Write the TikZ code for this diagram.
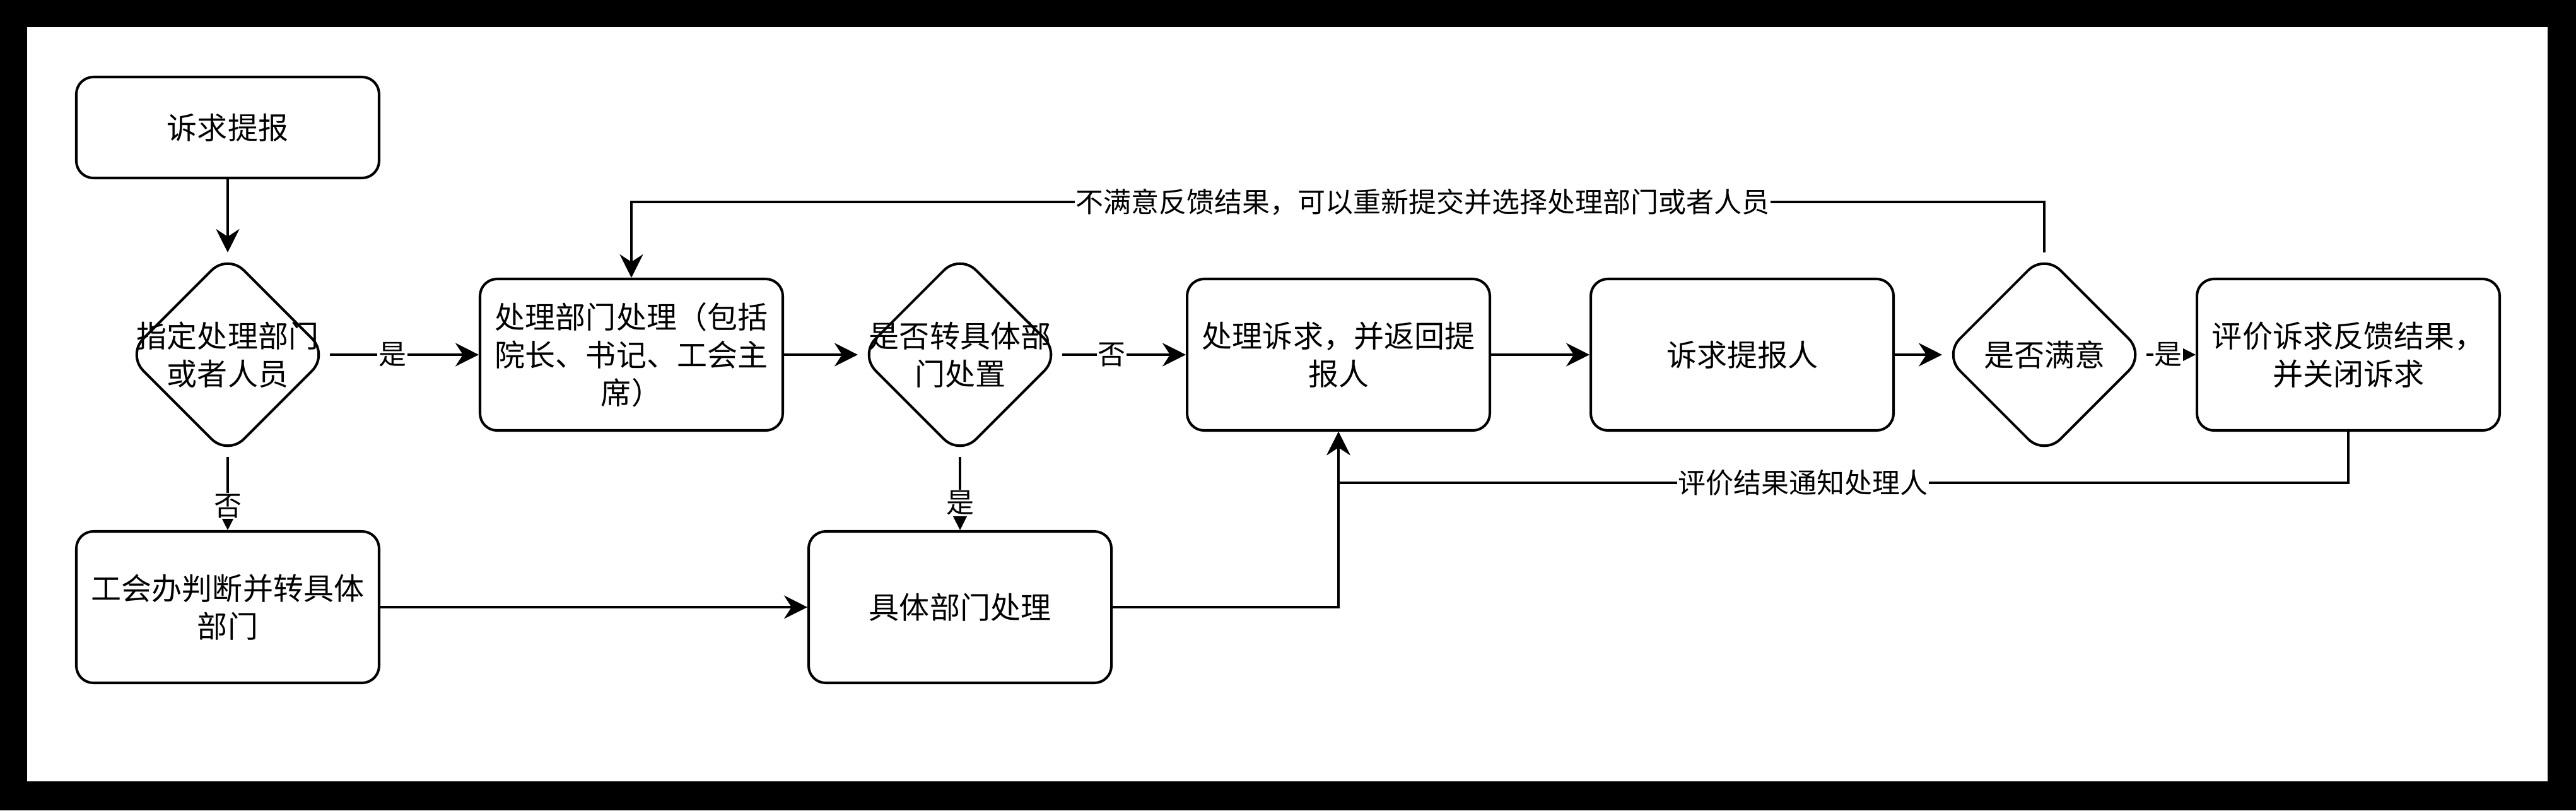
\documentclass[tikz,border=0pt]{standalone}
\usepackage{fontspec}
\setmainfont{Noto Sans CJK SC}
\usetikzlibrary{shapes.geometric,arrows.meta}
\newcommand\flowfont{\fontsize{13.66}{17.07}\selectfont}
\newcommand\tagfont{\fontsize{12.52}{15}\selectfont}
\tikzset{
  stepbox/.style={draw, line width=1.15pt, rounded corners=0.27cm, minimum width=4.8cm, minimum height=2.4cm, align=center, font=\flowfont, inner sep=0pt},
  askbox/.style={draw, diamond, line width=1.15pt, rounded corners=0.36cm, minimum width=3.2cm, minimum height=3.2cm, aspect=1, inner sep=0pt},
  asktext/.style={align=center, font=\flowfont, inner sep=0pt},
  flow/.style={line width=1.15pt, -{Stealth[length=0.37cm,width=0.37cm,inset=0.12cm]}},
  tag/.style={fill=white, inner sep=0.5pt, font=\tagfont},
}
\begin{document}
\begin{tikzpicture}
\fill[black](0,0)rectangle(40.84,-12.84);
\fill[white](0.43,-0.43)rectangle(40.39,-12.38);

\node[stepbox, minimum height=1.6cm](report)at(3.61,-2.02){诉求提报};
\node[askbox](assign)at(3.61,-5.62){};
\node[asktext](assign-txt)at(assign.center){指定处理部门\\或者人员};
\node[stepbox](dept)at(10.01,-5.62){处理部门处理（包括\\院长、书记、工会主\\席）};
\node[stepbox](union)at(3.61,-9.62){工会办判断并转具体\\部门};
\node[askbox](transfer)at(15.22,-5.62){};
\node[asktext](transfer-txt)at(transfer.center){是否转具体部\\门处置};
\node[stepbox](concrete)at(15.22,-9.62){具体部门处理};
\node[stepbox](handle)at(21.22,-5.62){处理诉求，并返回提\\报人};
\node[stepbox](reporter)at(27.62,-5.62){诉求提报人};
\node[askbox](satisfied)at(32.41,-5.62){};
\node[asktext](satisfied-txt)at(satisfied.center){是否满意};
\node[stepbox](close)at(37.23,-5.62){评价诉求反馈结果，\\并关闭诉求};

\draw[flow](report)--(assign);
\draw[flow](assign.east)--node[tag,pos=0.42]{是}(dept.west);
\draw[flow](assign.south)--node[tag,pos=0.67]{否}(union.north);
\draw[flow](dept)--(transfer);
\draw[flow](transfer.east)--node[tag,pos=0.4]{否}(handle.west);
\draw[flow](transfer.south)--node[tag,pos=0.63]{是}(concrete.north);
\draw[flow](union)--(concrete);
\draw[flow](concrete.east)-|(handle.south);
\draw[flow](handle)--(reporter);
\draw[flow](reporter)--(satisfied);
\draw[flow](satisfied.east)--node[tag,pos=0.44]{是}(close.west);

\draw[flow](satisfied.north)|-node[tag,pos=0.72]{不满意反馈结果，可以重新提交并选择处理部门或者人员}([yshift=1.2cm]dept.north)--(dept.north);
\draw[flow](close.south)|-node[tag,pos=0.77]{评价结果通知处理人}([yshift=-0.81cm]handle.south)--(handle.south);
\end{tikzpicture}
\end{document}
